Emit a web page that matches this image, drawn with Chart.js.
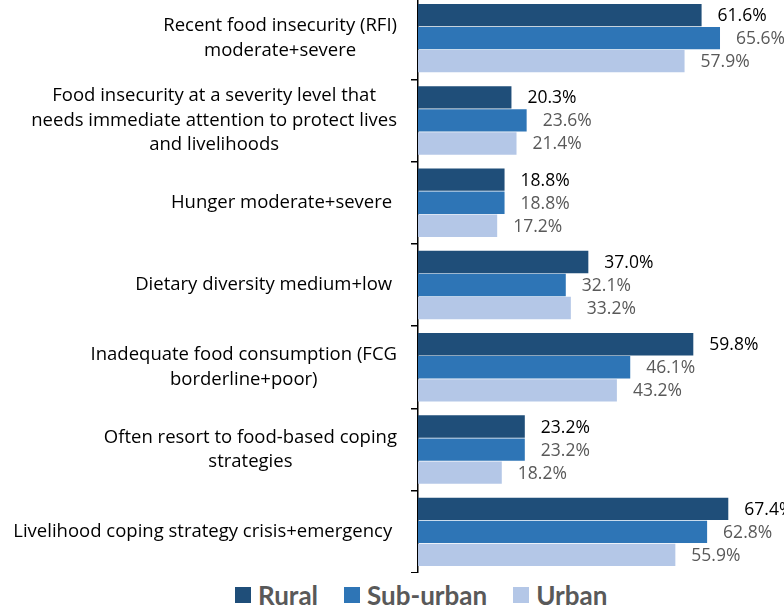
<!DOCTYPE html>
<html>
<head>
<meta charset="utf-8">
<script src="https://cdn.jsdelivr.net/npm/chart.js@4.4.1/dist/chart.umd.min.js"></script>
<style>
  html, body { margin: 0; padding: 0; background: #ffffff; overflow: hidden; }
  body { width: 784px; height: 612px; position: relative; font-family: Lato, sans-serif; }
  #wrap { position: absolute; left: 0; top: -3px; width: 784px; height: 576px; }
  #legend { position: absolute; left: 235px; top: 581px; height: 28px; display: flex; align-items: center;
            font-family: Lato, sans-serif; font-weight: bold; font-size: 26px; color: #595959; line-height: 28px; }
  .item { display: flex; align-items: center; margin-right: 26px; }
  .box { width: 16px; height: 16px; margin-right: 7px; }
</style>
</head>
<body>
<div id="wrap"><canvas id="c"></canvas></div>
<div id="legend"></div>
<script>
// ---- data ----
const categories = [
  ["Recent food insecurity (RFI)", "moderate+severe"],
  ["Food insecurity at a severity level that", "needs immediate attention to protect lives", "and livelihoods"],
  ["Hunger moderate+severe "],
  ["Dietary diversity medium+low "],
  ["Inadequate food consumption (FCG", "borderline+poor)"],
  ["Often resort to food-based coping", "strategies"],
  ["Livelihood coping strategy crisis+emergency "]
];
const seriesNames = ["Rural", "Sub-urban", "Urban"];
const rural    = [61.6, 20.3, 18.8, 37.0, 59.8, 23.2, 67.4];
const subUrban = [65.6, 23.6, 18.8, 32.1, 46.1, 23.2, 62.8];
const urban    = [57.9, 21.4, 17.2, 33.2, 43.2, 18.2, 55.9];

const colors = ["#1F4E79", "#2E75B6", "#B4C7E7"];
const labelColors = ["#000000", "#595959", "#595959"];

const labelsPlugin = {
  id: 'customLabels',
  afterDatasetsDraw(chart) {
    const ctx = chart.ctx;
    ctx.save();
    // data labels
    ctx.font = '17.5px "Open Sans"';
    ctx.textAlign = 'left';
    ctx.textBaseline = 'middle';
    chart.data.datasets.forEach((ds, di) => {
      const meta = chart.getDatasetMeta(di);
      ctx.fillStyle = labelColors[di];
      meta.data.forEach((bar, i) => {
        ctx.fillText(ds.data[i].toFixed(1) + '%', bar.x + 16, bar.y + 1);
      });
    });
    // category labels
    const ys = chart.scales.y;
    ctx.font = '18.5px "Open Sans"';
    ctx.fillStyle = '#000000';
    ctx.textAlign = 'center';
    const right = ys.right - 21;
    const lineH = 24.5;
    categories.forEach((lines, i) => {
      const maxW = Math.max(...lines.map(l => ctx.measureText(l).width));
      const cx = right - maxW / 2;
      const cy = ys.getPixelForValue(i);
      const y0 = cy - (lines.length - 1) / 2 * lineH;
      lines.forEach((l, k) => ctx.fillText(l, cx, y0 + k * lineH));
    });
    ctx.restore();
  }
};

const datasets = [rural, subUrban, urban].map((d, i) => ({
  label: seriesNames[i],
  data: d,
  backgroundColor: colors[i],
  borderWidth: 0,
  categoryPercentage: 0.84,
  barPercentage: 0.97
}));

new Chart(document.getElementById('c'), {
  type: 'bar',
  data: { labels: categories.map(c => c.join(' ')), datasets },
  options: {
    indexAxis: 'y',
    responsive: true,
    maintainAspectRatio: false,
    animation: false,
    layout: { padding: 0 },
    plugins: { legend: { display: false }, tooltip: { enabled: false } },
    scales: {
      x: { display: false, min: 0, max: 79.5 },
      y: {
        ticks: { display: false },
        grid: { drawOnChartArea: false, drawTicks: true, tickLength: 7, color: '#000000', lineWidth: 1.5, offset: true },
        border: { display: true, color: '#000000', width: 1.5 },
        afterFit(scale) { scale.width = 418; }
      }
    }
  },
  plugins: [labelsPlugin]
});

// HTML legend
const leg = document.getElementById('legend');
seriesNames.forEach((n, i) => {
  const it = document.createElement('div');
  it.className = 'item';
  const b = document.createElement('div');
  b.className = 'box';
  b.style.background = colors[i];
  const t = document.createElement('span');
  t.textContent = n;
  it.appendChild(b); it.appendChild(t);
  leg.appendChild(it);
});
</script>
</body>
</html>
